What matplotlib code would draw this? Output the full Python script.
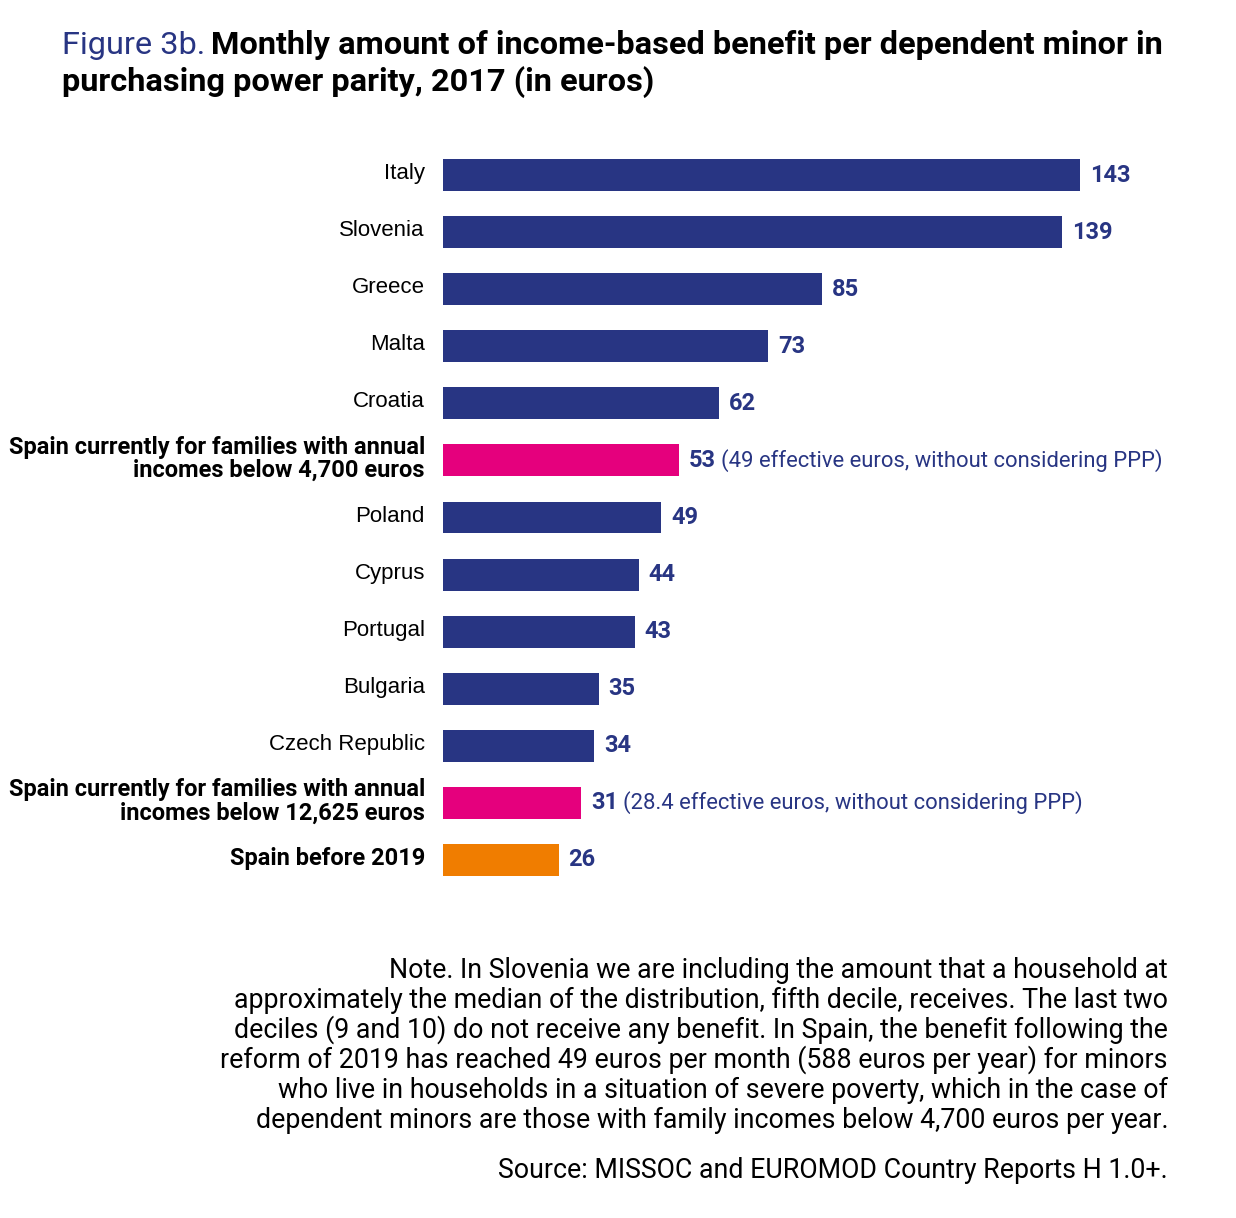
import matplotlib
matplotlib.use("Agg")
import matplotlib.pyplot as plt

# data, top to bottom
labels = ["Italy", "Slovenia", "Greece", "Malta", "Croatia",
          "Spain currently for families with annual\nincomes below 4,700 euros",
          "Poland", "Cyprus", "Portugal", "Bulgaria", "Czech Republic",
          "Spain currently for families with annual\nincomes below 12,625 euros",
          "Spain before 2019"]
values = [143, 139, 85, 73, 62, 53, 49, 44, 43, 35, 34, 31, 26]
groups = ["eu", "eu", "eu", "eu", "eu", "spain_now", "eu", "eu", "eu", "eu", "eu",
          "spain_now", "spain_old"]
extra_notes = {5: "(49 effective euros, without considering PPP)",
               11: "(28.4 effective euros, without considering PPP)"}

NAVY = "#283583"
MAGENTA = "#E5007D"
ORANGE = "#F07D00"
colors = {"eu": NAVY, "spain_now": MAGENTA, "spain_old": ORANGE}

narrow = "Roboto"
plain = "Liberation Sans"

fig = plt.figure(figsize=(12.36, 12.18), dpi=100)
W, H = 1236, 1218
left, right = 443, 1180
top, bottom = 146.5, 888.5
ax = fig.add_axes([left / W, 1 - bottom / H, (right - left) / W, (bottom - top) / H])

ypos = list(range(len(values)))
ax.barh(ypos, values, height=0.56, color=[colors[g] for g in groups])
ax.set_xlim(0, (right - left) / 4.455)
ax.set_ylim(len(values) - 0.5, -0.5)
ax.axis("off")

for i, (lab, v, g) in enumerate(zip(labels, values, groups)):
    bold = g != "eu"
    ax.annotate(lab, xy=(0, i), xycoords="data", xytext=(-13, 1), textcoords="offset points",
                ha="right", va="center", fontsize=16 if not bold else 17,
                family=plain if not bold else narrow,
                fontweight="bold" if bold else "normal", linespacing=1.0, color="black")
    t = ax.annotate(str(v), xy=(v, i), xytext=(7, 0), textcoords="offset points",
                    ha="left", va="center", fontsize=17, family=narrow,
                    fontweight="bold", color=NAVY)
    if i in extra_notes:
        ax.annotate(extra_notes[i], xy=(1, 0.5), xycoords=t, xytext=(4, 0),
                    textcoords="offset points", ha="left", va="center",
                    fontsize=15.8, family=narrow, color=NAVY)

# title
t1 = fig.text(62 / W, 1 - 45 / H, "Figure 3b.", fontsize=23.4, family=narrow,
              color=NAVY, ha="left", va="center")
fig.canvas.draw()
bb = t1.get_window_extent()
fig.text((bb.x1 + 6) / W, 1 - 45 / H, "Monthly amount of income-based benefit per dependent minor in",
         fontsize=23.4, family=narrow, fontweight="bold", color="black", ha="left", va="center")
fig.text(62 / W, 1 - 82 / H, "purchasing power parity, 2017 (in euros)",
         fontsize=23.4, family=narrow, fontweight="bold", color="black", ha="left", va="center")

note_lines = [
    "Note. In Slovenia we are including the amount that a household at",
    "approximately the median of the distribution, fifth decile, receives. The last two",
    "deciles (9 and 10) do not receive any benefit. In Spain, the benefit following the",
    "reform of 2019 has reached 49 euros per month (588 euros per year) for minors",
    "who live in households in a situation of severe poverty, which in the case of",
    "dependent minors are those with family incomes below 4,700 euros per year.",
]
for k, line in enumerate(note_lines):
    fig.text(1168 / W, 1 - (970 + 30 * k) / H, line, fontsize=19.3, family=narrow,
             ha="right", va="center", color="black")
fig.text(1168 / W, 1 - 1170 / H, "Source: MISSOC and EUROMOD Country Reports H 1.0+.",
         fontsize=19.3, family=narrow, ha="right", va="center", color="black")

fig.savefig("out.png", dpi=100, facecolor="white")
